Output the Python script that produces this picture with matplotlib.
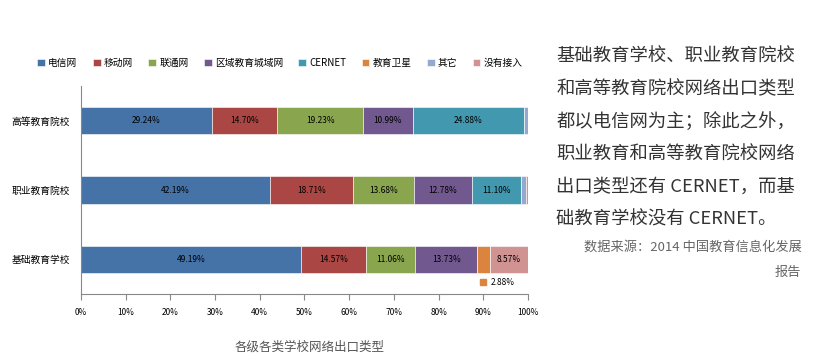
import matplotlib.pyplot as plt
import numpy as np

plt.rcParams['font.family'] = ['Noto Sans CJK SC', 'DejaVu Sans']

# data
schools = ['基础教育学校', '职业教育院校', '高等教育院校']
types = ['电信网', '移动网', '联通网', '区域教育城域网', 'CERNET', '教育卫星', '其它', '没有接入']
colors = ['#4572A7', '#AA4643', '#89A54E', '#71588F', '#4198AF', '#DB843D', '#93A9CF', '#D19392']

dianxin = [49.19, 42.19, 29.24]
yidong = [14.57, 18.71, 14.70]
liantong = [11.06, 13.68, 19.23]
quyu = [13.73, 12.78, 10.99]
cernet = [0.0, 11.10, 24.88]
weixing = [2.88, 0.0, 0.0]
qita = [0.0, 1.0, 0.96]
meiyou = [8.57, 0.54, 0.0]

series = [dianxin, yidong, liantong, quyu, cernet, weixing, qita, meiyou]

fig = plt.figure(figsize=[8.28, 3.62], dpi=100)
ax = fig.add_axes([0.0978, 0.1878, 0.5399, 0.5746])

y = np.arange(len(schools))
left = np.zeros(len(schools))
for name, vals, c in zip(types, series, colors):
    vals = np.array(vals)
    ax.barh(y, vals, left=left, height=0.39, color=c, label=name,
            edgecolor='white', linewidth=0.4)
    for i, v in enumerate(vals):
        if v >= 5:
            ax.text(left[i] + v / 2, y[i], '%.2f%%' % v, ha='center', va='center',
                    fontsize=6, color='black')
    left += vals

# small label for 教育卫星 under the bottom bar
wx_left = dianxin[0] + yidong[0] + liantong[0] + quyu[0] + cernet[0]
ax.plot(wx_left + weixing[0] / 2, -0.32, 's', color=colors[5], markersize=4)
ax.text(wx_left + weixing[0] / 2 + 1.6, -0.33, '%.2f%%' % weixing[0], ha='left', va='center',
        fontsize=6, color='black')

ax.set_xlim(0, 100)
ax.set_ylim(-0.5, 2.5)
ax.set_xticks(np.arange(0, 101, 10))
ax.set_xticklabels(['%d%%' % t for t in range(0, 101, 10)], fontsize=6)
ax.set_yticks(y)
ax.set_yticklabels(schools, fontsize=7)
ax.tick_params(axis='y', length=0, pad=8)
ax.tick_params(axis='x', length=4, color='#888888', pad=6)
for s in ['top', 'right']:
    ax.spines[s].set_visible(False)
ax.spines['left'].set_color('#888888')
ax.spines['bottom'].set_color('#888888')

ax.legend(loc='center', bbox_to_anchor=(0.445, 1.11), ncol=8, frameon=False,
          fontsize=7, handlelength=0.8, handleheight=0.8, handletextpad=0.3,
          columnspacing=1.6)

fig.text(0.374, 0.04, '各级各类学校网络出口类型', ha='center', va='center',
         fontsize=9, color='#555555')

lines = ['基础教育学校、职业教育院校', '和高等教育院校网络出口类型', '都以电信网为主；除此之外，',
         '职业教育和高等教育院校网络', '出口类型还有 CERNET，而基', '础教育学校没有 CERNET。']
for k, t in enumerate(lines):
    fig.text(0.672, 1 - (57 + k * 32.5) / 362, t, ha='left', va='center',
             fontsize=13.2, color='#333333')

fig.text(0.968, 1 - 247 / 362, '数据来源：2014 中国教育信息化发展', ha='right', va='center',
         fontsize=9.5, color='#666666')
fig.text(0.968, 1 - 272 / 362, '报告', ha='right', va='center',
         fontsize=9.5, color='#666666')

plt.savefig('out.png', dpi=100)
